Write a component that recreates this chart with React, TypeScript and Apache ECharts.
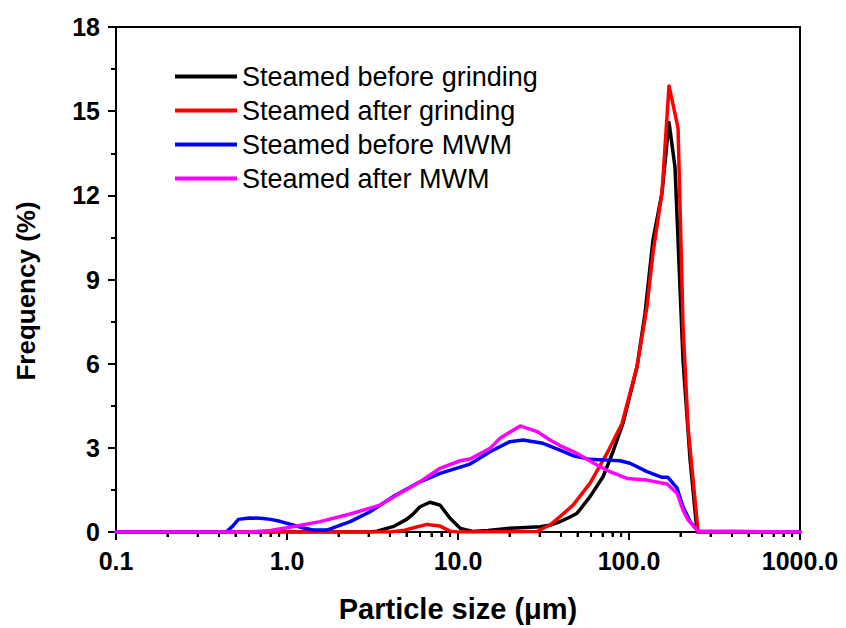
import React, { useEffect, useRef } from "react";
import * as echarts from "echarts";

const seriesNames = [
  "Steamed before grinding",
  "Steamed after grinding",
  "Steamed before MWM",
  "Steamed after MWM",
];
const seriesColors = ["#000000", "#ff0000", "#0000ff", "#ff00ff"];

// Steamed before grinding
const sizeBeforeGrinding = [0.1, 3.0, 3.36, 4.17, 5.0, 5.46, 6.0, 6.86, 7.85, 8.98, 10.3, 12.2, 15.0, 20.1, 25.0, 30.2, 35.0, 39.5, 44.0, 49.7, 59.2, 70.5, 80.6, 92.2, 111.4, 124.1, 138.1, 156.0, 171.4, 185.8, 207.1, 227.7, 250.0, 1000];
const freqBeforeGrinding = [0, 0, 0.03, 0.19, 0.45, 0.64, 0.9, 1.06, 0.96, 0.49, 0.13, 0.02, 0.05, 0.13, 0.16, 0.19, 0.25, 0.37, 0.5, 0.67, 1.26, 1.97, 2.86, 3.88, 5.88, 7.8, 10.4, 12.1, 14.6, 13.0, 6.1, 2.57, 0, 0];

// Steamed after grinding
const sizeAfterGrinding = [0.1, 4.0, 4.77, 5.5, 6.59, 7.85, 8.98, 10.0, 29.0, 30.2, 34.5, 39.5, 47.1, 59.2, 74.3, 91.0, 111.4, 127.4, 138.1, 156.0, 171.4, 193.6, 207.1, 221.5, 253.5, 1000];
const freqAfterGrinding = [0, 0, 0.05, 0.15, 0.27, 0.21, 0.03, 0, 0.02, 0.08, 0.25, 0.55, 0.96, 1.74, 2.8, 3.87, 5.9, 8.03, 9.94, 12.1, 15.9, 14.4, 7.3, 3.74, 0, 0];

// Steamed before MWM
const sizeBeforeMWM = [0.1, 0.44, 0.48, 0.52, 0.6, 0.7, 0.8, 0.91, 1.084, 1.25, 1.42, 1.71, 2.34, 3.06, 4.17, 6.0, 7.85, 11.75, 15.4, 20.1, 24.0, 31.4, 39.5, 47.1, 59.2, 88.5, 101.4, 127.4, 156.0, 169.0, 191.0, 207.0, 227.7, 253.0, 1000];
const freqBeforeMWM = [0, 0, 0.2, 0.45, 0.5, 0.49, 0.45, 0.38, 0.25, 0.14, 0.07, 0.07, 0.37, 0.72, 1.26, 1.79, 2.09, 2.42, 2.86, 3.22, 3.28, 3.16, 2.92, 2.72, 2.59, 2.54, 2.45, 2.15, 1.95, 1.95, 1.56, 0.9, 0.37, 0.03, 0];

// Steamed after MWM
const sizeAfterMWM = [0.1, 0.6, 0.8, 1.04, 1.56, 2.34, 3.5, 4.58, 6.0, 7.85, 10.3, 11.75, 15.4, 17.6, 23.1, 29.0, 34.5, 39.5, 49.7, 65.0, 77.4, 97.3, 127.4, 166.9, 191.0, 207.0, 221.5, 253.0, 1000];
const freqAfterMWM = [0, 0, 0.05, 0.17, 0.37, 0.64, 0.96, 1.38, 1.79, 2.27, 2.54, 2.6, 2.98, 3.34, 3.78, 3.58, 3.28, 3.08, 2.8, 2.39, 2.15, 1.91, 1.85, 1.71, 1.38, 0.78, 0.43, 0.03, 0];

// axis range and ticks (particle size, µm)
const xMin = 0.1;
const xMax = 1000;
const xMinorTicks = [0.2, 0.3, 0.4, 0.5, 0.6, 0.7, 0.8, 0.9, 2, 3, 4, 5, 6, 7, 8, 9, 20, 30, 40, 50, 60, 70, 80, 90, 200, 300, 400, 500, 600, 700, 800, 900];
const minorTickDepth = 0.18; // in frequency units below 0

const sizes = [sizeBeforeGrinding, sizeAfterGrinding, sizeBeforeMWM, sizeAfterMWM];
const freqs = [freqBeforeGrinding, freqAfterGrinding, freqBeforeMWM, freqAfterMWM];

const FONT = "'Liberation Sans', Arial, sans-serif";
const lg = (v: number) => Math.log10(v);

export default function App() {
  const ref = useRef<HTMLDivElement>(null);
  useEffect(() => {
    if (!ref.current) return;
    const chart = echarts.init(ref.current, null, { renderer: "svg" });
    const lineSeries = seriesNames.map((name, i) => ({
      name,
      type: "line",
      xAxisIndex: 0,
      data: sizes[i].map((s, j) => [lg(s), freqs[i][j]]),
      showSymbol: false,
      symbol: "none",
      lineStyle: { color: seriesColors[i], width: 3.5, join: "round", cap: "round" },
      itemStyle: { color: seriesColors[i] },
      z: 3 + i,
    }));
    const minorTickData: any[] = [];
    xMinorTicks.forEach((v) => {
      minorTickData.push([lg(v), 0]);
      minorTickData.push([lg(v), -minorTickDepth]);
      minorTickData.push([lg(v), "-"]);
    });
    const titleGraphic = {
      type: "text",
      x: 26,
      y: 291,
      rotation: Math.PI / 2,
      style: {
        text: "Frequency (%)",
        fontFamily: FONT,
        fontSize: 26,
        fontWeight: "bold",
        fill: "#000",
        align: "center",
        verticalAlign: "middle",
      },
    };
    chart.setOption({
      animation: false,
      backgroundColor: "#ffffff",
      grid: {
        left: 116,
        top: 27,
        width: 684,
        height: 505,
        show: true,
        borderColor: "#000",
        borderWidth: 2,
        backgroundColor: "transparent",
      },
      legend: {
        orient: "vertical",
        left: 170,
        top: 58,
        icon: "rect",
        itemWidth: 62,
        itemHeight: 4,
        itemGap: 7,
        data: seriesNames,
        textStyle: { fontFamily: FONT, fontSize: 27, color: "#000", lineHeight: 26 },
      },
      xAxis: [
        {
          type: "value",
          min: lg(xMin),
          max: lg(xMax),
          interval: 1,
          position: "bottom",
          name: "Particle size (\u03bcm)",
          nameLocation: "middle",
          nameGap: 62,
          nameTextStyle: { fontFamily: FONT, fontSize: 29, fontWeight: "bold", color: "#000" },
          axisLine: { show: true, onZero: false, lineStyle: { color: "#000", width: 2 } },
          axisTick: { show: true, inside: false, length: 8, lineStyle: { color: "#000", width: 2 } },
          splitLine: { show: false },
          axisLabel: {
            fontFamily: FONT,
            fontSize: 25,
            fontWeight: "bold",
            color: "#000",
            margin: 16,
            formatter: (v: number) => Math.pow(10, v).toFixed(1),
          },
        },
        {
          type: "value",
          min: lg(xMin),
          max: lg(xMax),
          position: "bottom",
          offset: 0,
          axisLine: { show: false, onZero: false },
          axisTick: {
            show: true,
            inside: false,
            length: 5,
            customValues: xMinorTicks.map(lg),
            lineStyle: { color: "#000", width: 2 },
          },
          axisLabel: { show: false },
          splitLine: { show: false },
        },
      ],
      yAxis: {
        type: "value",
        min: 0,
        max: 18,
        interval: 3,
        axisLine: { show: true, onZero: false, lineStyle: { color: "#000", width: 2 } },
        axisTick: { show: true, inside: false, length: 8, lineStyle: { color: "#000", width: 2 } },
        minorTick: { show: true, splitNumber: 2, length: 5, lineStyle: { color: "#000", width: 2 } },
        splitLine: { show: false },
        minorSplitLine: { show: false },
        axisLabel: { fontFamily: FONT, fontSize: 25, fontWeight: "bold", color: "#000", margin: 16 },
      },
      graphic: [titleGraphic],
      series: [
        ...lineSeries,
        {
          type: "line",
          name: "x minor ticks",
          xAxisIndex: 0,
          data: minorTickData,
          clip: false,
          silent: true,
          connectNulls: false,
          showSymbol: false,
          symbol: "none",
          lineStyle: { color: "#000", width: 2 },
          z: 1,
        },
      ],
    });
    return () => chart.dispose();
  }, []);
  return (
    <div
      ref={ref}
      style={{ position: "absolute", left: 0, top: 0, width: 846, height: 628 }}
    />
  );
}
